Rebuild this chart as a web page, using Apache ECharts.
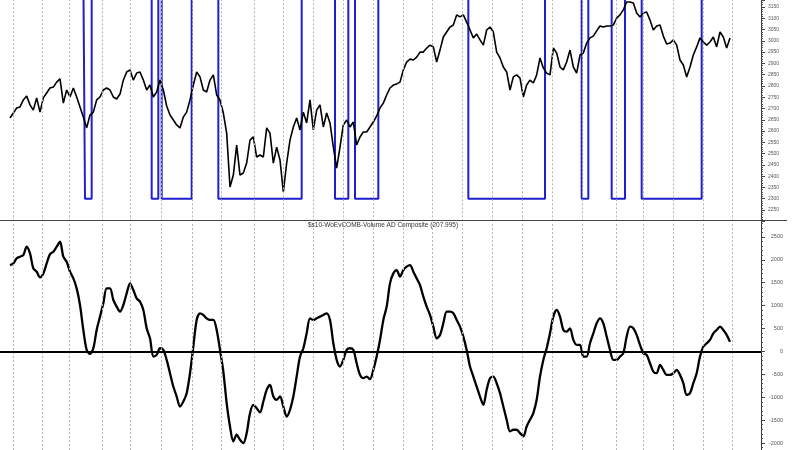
<!DOCTYPE html>
<html>
<head>
<meta charset="utf-8">
<script src="https://cdn.jsdelivr.net/npm/echarts@6/dist/echarts.min.js"></script>
<style>html,body{margin:0;padding:0;background:#fff}#c{width:800px;height:450px}</style>
</head>
<body>
<div id="c"></div>
<script>
// ---- data ----
const price = [
2658,2680,2702,2707,2738,2755,2716,2693,2747,2684,
2747,2769,2791,2795,2817,2831,2724,2782,2751,2791,
2751,2707,2662,2614,2671,2684,2738,2751,2782,2791,
2782,2751,2742,2764,2826,2862,2871,2826,2857,2862,
2826,2782,2804,2751,2773,2826,2782,2711,2671,2649,
2627,2614,2662,2684,2738,2804,2862,2840,2782,2773,
2826,2849,2760,2738,2680,2591,2352,2405,2538,2405,
2414,2458,2560,2574,2485,2494,2485,2614,2591,2458,
2529,2472,2330,2458,2560,2618,2658,2605,2684,2636,
2738,2605,2693,2716,2618,2680,2636,2529,2436,2529,
2627,2649,2618,2640,2538,2574,2596,2596,2618,2640,
2667,2702,2724,2760,2791,2804,2809,2817,2871,2906,
2919,2915,2928,2950,2950,2968,2981,2973,2906,2959,
3017,3039,3061,3070,3115,3106,3115,3083,3048,3013,
3030,3004,2981,3048,3061,3039,2950,2924,2884,2862,
2782,2840,2849,2835,2751,2804,2826,2813,2849,2924,
2880,2857,2849,2968,2946,2884,2871,2906,2959,2884,
2857,2937,2946,2990,3013,3021,3044,3066,3061,3066,
3066,3070,3101,3115,3137,3172,3172,3168,3123,3106,
3123,3128,3092,3048,3066,3070,3021,2986,2990,3004,
2981,2915,2893,2840,2884,2937,2973,3013,2995,2981,
2995,3017,2973,3039,3017,2968,3013];

const composite = [
1886,1922,2031,2068,2104,2286,2140,1813,1741,1617,
1704,1922,2126,2177,2286,2395,2068,1959,1741,1595,
1377,1014,469,33,-54,69,469,760,1050,1377,
1377,1123,978,869,1014,1268,1486,1341,1159,1087,
905,505,287,-112,-76,69,33,-185,-476,-767,
-985,-1203,-1094,-912,-476,106,687,832,796,723,
687,687,469,33,-439,-1130,-1639,-1965,-1820,-1929,
-2002,-1784,-1348,-1166,-1239,-1330,-1094,-839,-730,-985,
-1057,-985,-1203,-1421,-1275,-985,-549,-112,69,396,
723,687,723,760,796,832,687,178,-185,-330,
-185,33,69,33,-258,-512,-585,-549,-607,-403,
-112,251,687,978,1486,1704,1777,1632,1777,1850,
1886,1741,1595,1450,1196,978,796,541,287,360,
614,869,869,832,687,541,324,33,-330,-549,
-767,-985,-1166,-839,-585,-549,-694,-912,-1203,-1493,
-1748,-1711,-1711,-1784,-1857,-1639,-1493,-1348,-1057,-549,
-185,69,396,760,905,760,469,433,505,251,
142,142,-112,-112,178,396,614,723,614,324,
33,-185,-185,-112,-40,324,541,505,360,142,
-40,-76,-258,-439,-476,-294,-403,-512,-512,-476,
-403,-512,-694,-948,-912,-694,-476,-112,106,178,
251,396,469,541,469,360,208];

// signal: sample-index ranges where the blue line sits at its low level
const signalLowRanges = [[23,24],[43,44],[46,54],[63,87],[98,101],[104,110],[138,160],[172,173],[181,184],[190,207]];
const signalLow = 2300, signalHigh = 3300;

// vertical (monthly) grid line positions, in sample index units
const monthLines = [0.9,9.6,17.7,27.6,36,45.3,54.6,63.3,73.2,81.9,90.9,99.9,108.9,117.9,126.6,135.6,144.6,153.6,162.6,171.6,181.8,189.9,198.9,207.9,216.6];

const title2 = '$s10-WoEvCOMB-Volume AD Composite (207.995)';

// ---- build ----
const signal = price.map((_, i) => signalLowRanges.some(r => i >= r[0] && i <= r[1]) ? signalLow : signalHigh);

const chart = echarts.init(document.getElementById('c'), null, {renderer: 'canvas'});
const fontFam = 'Liberation Sans, Arial, sans-serif';
function yAx(gi, min, max, interval, fs, margin) {
  return {
    type: 'value', gridIndex: gi, position: 'right', min: min, max: max, interval: interval,
    splitLine: {show: false},
    axisLine: {show: true, onZero: false, lineStyle: {color: '#333', width: 1}},
    axisTick: {show: true, length: 4, lineStyle: {color: '#444', width: 1}},
    minorTick: {show: true, splitNumber: 5, length: 2, lineStyle: {color: '#555', width: 1}},
    axisLabel: {show: true, showMinLabel: false, showMaxLabel: false, fontSize: fs, color: '#555', fontFamily: fontFam,
      align: 'right', margin: margin, formatter: v => String(v)}
  };
}
chart.setOption({
  animation: false,
  backgroundColor: '#fff',
  grid: [
    {left: 0, right: 39, top: 0, height: 221.3, outerBoundsMode: 'none', containLabel: false},
    {left: 0, right: 39, top: 221, height: 244.9, outerBoundsMode: 'none', containLabel: false}
  ],
  xAxis: [
    {type: 'value', gridIndex: 0, min: -3, max: 225.3, show: false, axisLine: {onZero: false}},
    {type: 'value', gridIndex: 1, min: -3, max: 225.3, show: false, axisLine: {onZero: false}}
  ],
  yAxis: [
    yAx(0, 2200, 3181, 50, 5, 18),
    yAx(1, -2500, 2848, 500, 5.5, 22)
  ],
  graphic: [
    {type: 'rect', shape: {x: 0, y: 221, width: 761, height: 2}, style: {fill: '#fff'}, z: 90},
    {type: 'line', shape: {x1: 0, y1: 220.5, x2: 787, y2: 220.5}, style: {stroke: '#444', lineWidth: 1}, z: 100},
    {type: 'text', x: 383, y: 225, style: {text: title2, font: '6.5px ' + fontFam, fill: '#333', textAlign: 'center', textVerticalAlign: 'middle'}, z: 100}
  ],
  series: [
    {
      type: 'line', xAxisIndex: 0, yAxisIndex: 0, data: signal.map((v, i) => [i, v]),
      step: 'middle', showSymbol: false, clip: true,
      lineStyle: {color: '#1f1fcc', width: 2}, z: 2,
      markLine: {
        silent: true, symbol: 'none', animation: false, label: {show: false},
        lineStyle: {color: '#b4b4b4', type: [2, 2], width: 1},
        data: monthLines.map(v => ({xAxis: v}))
      }
    },
    {
      type: 'line', xAxisIndex: 0, yAxisIndex: 0, data: price.map((v, i) => [i, v]),
      showSymbol: false, clip: true,
      lineStyle: {color: '#000', width: 1.6}, z: 3
    },
    {
      type: 'line', xAxisIndex: 1, yAxisIndex: 1, data: composite.map((v, i) => [i, v]),
      showSymbol: false, clip: true, smooth: 0.3,
      lineStyle: {color: '#000', width: 2.3}, z: 3,
      markLine: {
        silent: true, symbol: 'none', animation: false, label: {show: false},
        data: monthLines.map(v => ({xAxis: v, lineStyle: {color: '#b4b4b4', type: [2, 2], width: 1}}))
          .concat([{yAxis: 0, lineStyle: {color: '#000', type: 'solid', width: 2}}])
      }
    }
  ]
});
</script>
</body>
</html>
